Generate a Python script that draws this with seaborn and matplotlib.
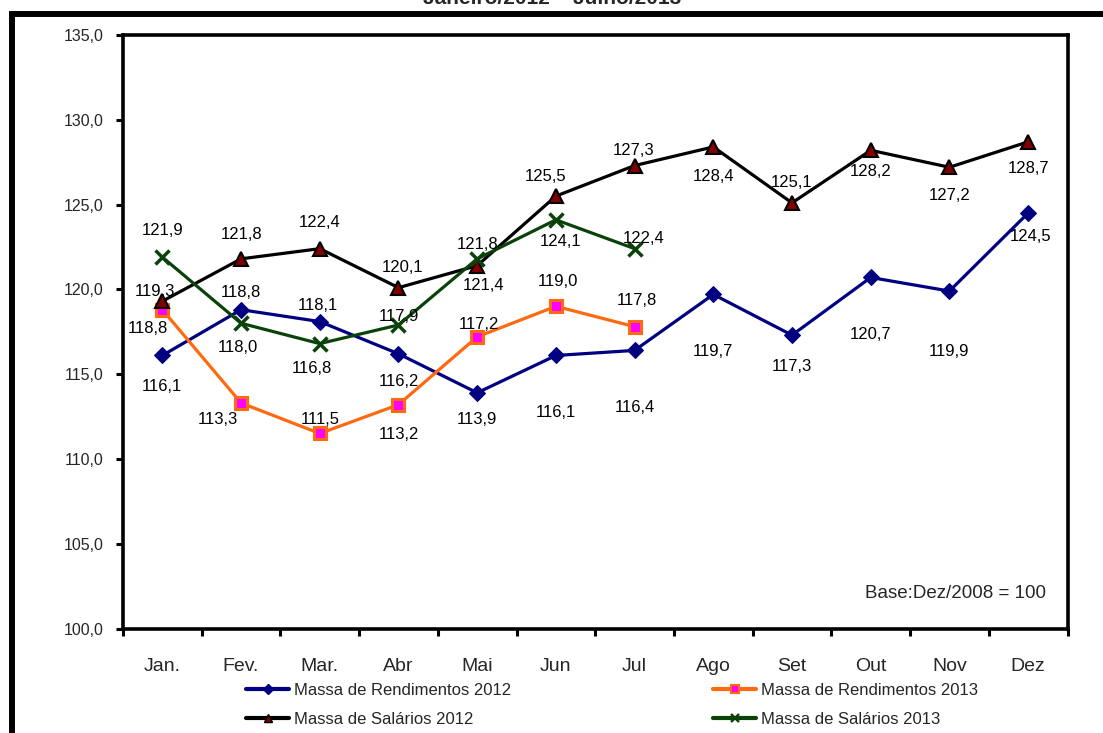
import matplotlib
matplotlib.use("Agg")
import matplotlib.pyplot as plt
from matplotlib.lines import Line2D
from matplotlib.patches import Rectangle
import seaborn as sns
import pandas as pd

# Monthly indices (Base: Dez/2008 = 100)
months = ["Jan.", "Fev.", "Mar.", "Abr", "Mai", "Jun", "Jul",
          "Ago", "Set", "Out", "Nov", "Dez"]
rend_2012 = [116.1, 118.8, 118.1, 116.2, 113.9, 116.1, 116.4,
             119.7, 117.3, 120.7, 119.9, 124.5]
rend_2013 = [118.8, 113.3, 111.5, 113.2, 117.2, 119.0, 117.8]
sal_2012 = [119.3, 121.8, 122.4, 120.1, 121.4, 125.5, 127.3,
            128.4, 125.1, 128.2, 127.2, 128.7]
sal_2013 = [121.9, 118.0, 116.8, 117.9, 121.8, 124.1, 122.4]

series_names = ["Massa de Rendimentos 2012", "Massa de Rendimentos 2013",
                "Massa de Salários 2012", "Massa de Salários 2013"]
title_text = "Janeiro/2012 – Julho/2013"
base_text = "Base:Dez/2008 = 100"

# Label offsets (dx, dy) in pixels relative to each marker (positive dy = below)
off_rend_2012 = [(0, 31), (0, -17), (-2, -16), (0, 28), (0, 27), (0, 57), (0, 57),
                 (0, 57), (0, 31), (0, 57), (0, 60), (2, 23)]
off_rend_2013 = [(-14, 19), (-23, 17), (0, -14), (0, 30), (2, -12), (2, -25), (2, -26)]
off_sal_2012 = [(-7, -10), (0, -24), (0, -26), (4, -20), (6, 20), (-10, -20), (-1, -15),
                (0, 30), (0, -20), (0, 21), (0, 28), (0, 27)]
off_sal_2013 = [(0, -27), (-3, 24), (-8, 25), (0, -8), (0, -14), (5, 22), (9, -10)]

sns.set_style("white")
plt.rcParams["font.family"] = ["Liberation Sans", "DejaVu Sans"]

W, H = 1103, 733
fig = plt.figure(figsize=(W / 100, H / 100), dpi=100)

# axes placement in pixel terms
L, R, T, B = 123, 1067.5, 35, 628.5
ax = fig.add_axes([L / W, 1 - B / H, (R - L) / W, (B - T) / H])

styles = {
    "r12": dict(color="#000080", marker="D", markersize=8, markerfacecolor="#000080",
                markeredgecolor="#000080", linewidth=2.3),
    "r13": dict(color="#FF6A10", marker="s", markersize=9, markerfacecolor="#FF00FF",
                markeredgecolor="#FF6A10", markeredgewidth=2.2, linewidth=2.3),
    "s12": dict(color="#000000", marker="^", markersize=9.5, markerfacecolor="#800000",
                markeredgecolor="#000000", markeredgewidth=1.5, linewidth=2.3),
    "s13": dict(color="#0A420A", marker="x", markersize=10, markeredgecolor="#0A420A",
                markeredgewidth=2.5, linewidth=2.3),
}

data = [
    ("r12", rend_2012, off_rend_2012),
    ("r13", rend_2013, off_rend_2013),
    ("s12", sal_2012, off_sal_2012),
    ("s13", sal_2013, off_sal_2013),
]

for key, vals, offs in data:
    df = pd.DataFrame({"x": range(len(vals)), "y": vals})
    sns.lineplot(data=df, x="x", y="y", ax=ax, sort=False, estimator=None,
                 legend=False, **styles[key])
    for i, (v, (dx, dy)) in enumerate(zip(vals, offs)):
        ax.annotate(f"{v:.1f}".replace(".", ","), (i, v),
                    xytext=(dx * 0.72, -dy * 0.72), textcoords="offset points",
                    ha="center", va="center", fontsize=12, color="black", zorder=5)

ax.set_xlim(-0.5, 11.5)
ax.set_ylim(100, 135)
ax.set_xlabel("")
ax.set_ylabel("")

ax.set_xticks(range(12))
ax.set_xticklabels(months, fontsize=14)
ax.set_xticks([i - 0.5 for i in range(13)], minor=True)
ax.tick_params(axis="x", which="major", length=0, pad=21)
ax.tick_params(axis="x", which="minor", length=5, width=2.2, direction="out",
               color="black", bottom=True)

yt = list(range(100, 136, 5))
ax.set_yticks(yt)
ax.set_yticklabels([f"{v:.1f}".replace(".", ",") for v in yt], fontsize=11.5)
ax.tick_params(axis="y", length=5, width=2.2, direction="out", color="black",
               pad=9, left=True)

for s in ax.spines.values():
    s.set_visible(True)
    s.set_color("black")
    s.set_linewidth(2.6)
ax.grid(False)

ax.text(0.977, 0.059, base_text, transform=ax.transAxes, ha="right", va="center",
        fontsize=13.5)

# Legend below the plot
handles = []
for key in ["r12", "s12", "r13", "s13"]:
    st = dict(styles[key])
    st["markersize"] = st["markersize"] * 0.6
    if "markeredgewidth" in st:
        st["markeredgewidth"] = st["markeredgewidth"] * 0.7
    st["linewidth"] = 3
    handles.append(Line2D([], [], **st))
labels = [series_names[0], series_names[2], series_names[1], series_names[3]]
fig.legend(handles, labels, loc="upper left", bbox_to_anchor=(246 / W, 1 - 683 / H),
           ncol=2, frameon=False, fontsize=12, handlelength=2.6, handletextpad=0.3,
           columnspacing=12.1, labelspacing=0.85, borderpad=0, borderaxespad=0)

# Title sitting at the very top edge of the figure
fig.text(552 / W, 1 - 4 / H, title_text, ha="center", va="baseline",
         fontsize=15, fontweight="bold")

# Outer frame around the chart area
fig.patches.append(Rectangle((11.5 / W, -0.2), 1.5, 1 - 13.5 / H + 0.2,
                             transform=fig.transFigure, fill=False,
                             edgecolor="black", linewidth=4.3, zorder=10))

fig.savefig("out.png", dpi=100)
